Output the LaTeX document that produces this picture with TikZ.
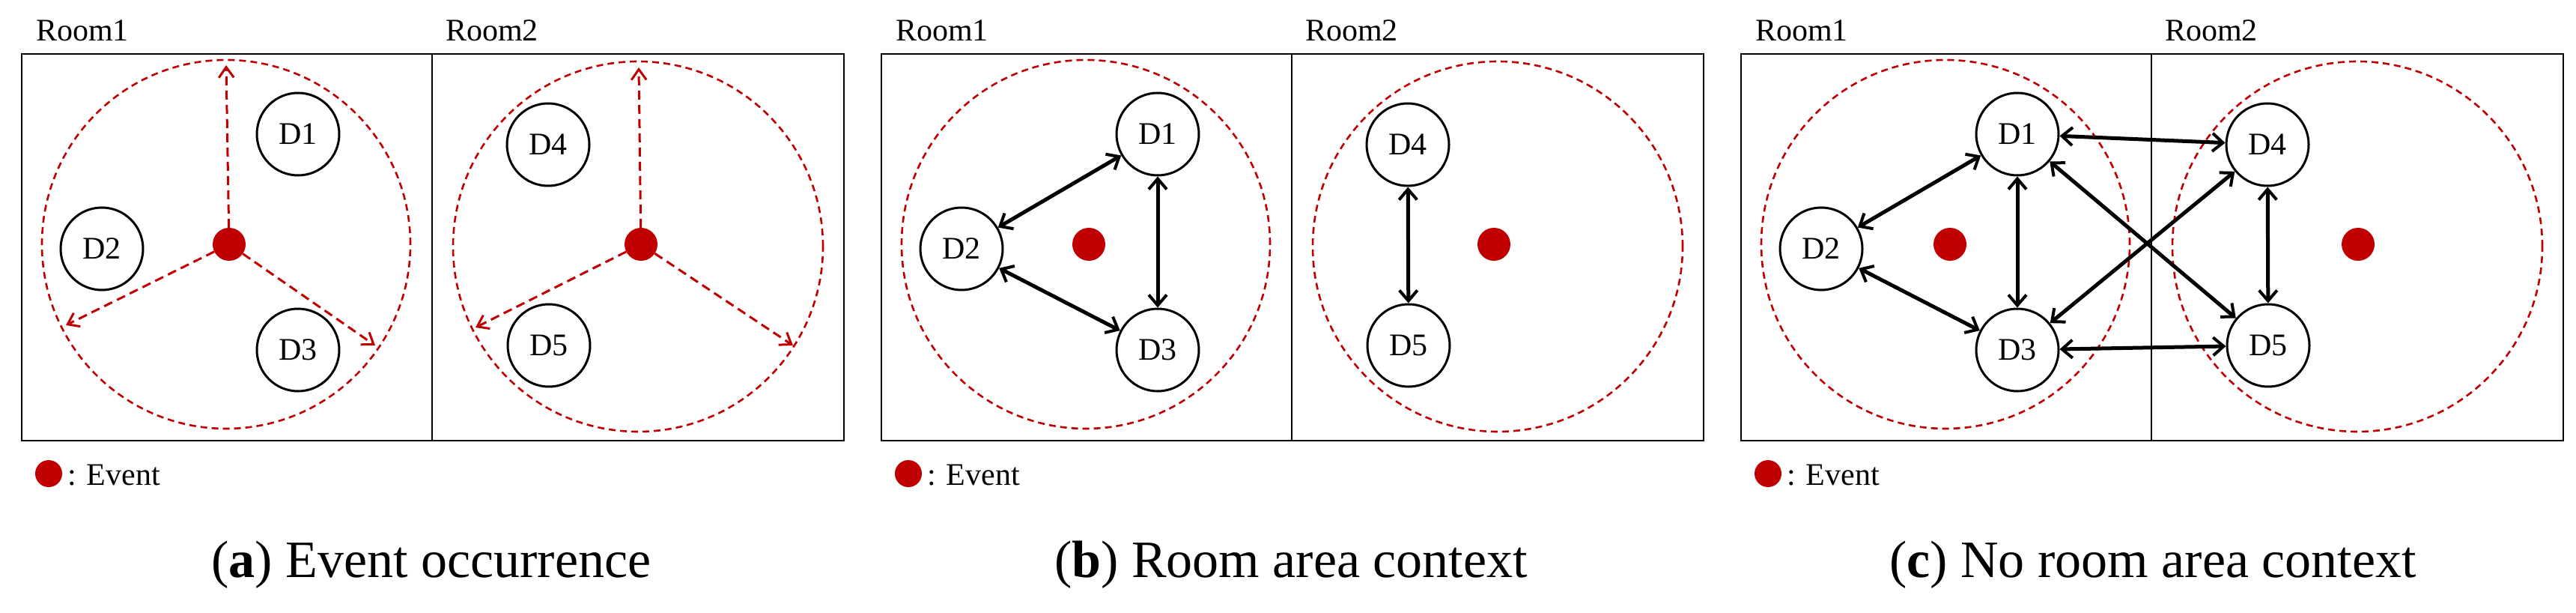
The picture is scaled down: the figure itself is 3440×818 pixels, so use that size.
\documentclass[tikz,border=0pt]{standalone}
\usepackage{fontspec}
\setmainfont{Liberation Serif}
\usetikzlibrary{arrows.meta}
\definecolor{evred}{HTML}{C00000}
\tikzset{
  room/.style={draw, line width=2pt},
  zone/.style={draw=evred, dashed, dash pattern=on 9pt off 6pt, line width=2.6pt},
  dev/.style={circle, draw, line width=3pt, minimum size=110pt, inner sep=0pt, font=\fontsize{42}{42}\selectfont},
  ev/.style={circle, fill=evred, minimum size=44pt, inner sep=0pt},
  prop/.style={draw=evred, dashed, dash pattern=on 12pt off 7pt, line width=3pt, -{Straight Barb[length=14pt,width=20pt,line width=3pt]}},
  link/.style={draw, line width=5pt, {Straight Barb[length=14pt,width=24pt,line width=4pt]}-{Straight Barb[length=14pt,width=24pt,line width=4pt]}},
  lbl/.style={font=\fontsize{42}{42}\selectfont, anchor=base west, inner sep=0pt},
  captxt/.style={font=\fontsize{70}{70}\selectfont, anchor=base, inner sep=0pt}
}
\newcommand\roompanel{%
  \node[room, minimum width=548pt, minimum height=516pt, anchor=north west, inner sep=0pt] (r1) at (0,71) {};
  \node[room, minimum width=550pt, minimum height=516pt, anchor=north west, inner sep=0pt] (r2) at (548,71) {};
  \node[lbl] (t1) at (20,55) {Room1};
  \node[lbl] (t2) at (567,55) {Room2};
  \node[circle, zone, minimum size=492pt] (z1) at (274,326) {};
  \node[circle, zone, minimum size=494pt] (z2) at (824,329) {};
  \node[dev] (D1) at (370,179) {D1};
  \node[dev] (D2) at (108,332) {D2};
  \node[dev] (D3) at (370,467) {D3};
  \node[dev] (D4) at (704,193) {D4};
  \node[dev] (D5) at (705,461) {D5};
  \node[ev, minimum size=36pt] (L) at (37,632) {};
  \node[lbl, anchor=west] (Lt) at (62,634) {: Event};
}
\begin{document}
\begin{tikzpicture}[x=1pt,y=-1pt]
\useasboundingbox (0,0) rectangle (3440,818);
% (a)
\begin{scope}[shift={(28,0)}, name prefix=a-]
  \roompanel
  \node[ev] (E1) at (278,326) {};
  \node[ev] (E2) at (828,326) {};
  \coordinate (p1) at (274,87);
  \coordinate (p2) at (60,434);
  \coordinate (p3) at (473,461);
  \coordinate (q1) at (825,90);
  \coordinate (q2) at (607,437);
  \coordinate (q3) at (1031,461);
  \draw[prop] (E1) -- (p1);
  \draw[prop] (E1) -- (p2);
  \draw[prop] (E1) -- (p3);
  \draw[prop] (E2) -- (q1);
  \draw[prop] (E2) -- (q2);
  \draw[prop] (E2) -- (q3);
  \node[captxt] (c) at (548,770) {(\textbf{a}) Event occurrence};
\end{scope}
% (b)
\begin{scope}[shift={(1176,0)}, name prefix=b-]
  \roompanel
  \node[ev] (E1) at (278,326) {};
  \node[ev] (E2) at (819,326) {};
  \draw[link] (D1) -- (D2);
  \draw[link] (D2) -- (D3);
  \draw[link] (D1) -- (D3);
  \draw[link] (D4) -- (D5);
  \node[captxt] (c) at (548,770) {(\textbf{b}) Room area context};
\end{scope}
% (c)
\begin{scope}[shift={(2324,0)}, name prefix=c-]
  \roompanel
  \node[ev] (E1) at (280,326) {};
  \node[ev] (E2) at (825,326) {};
  \draw[link] (D1) -- (D2);
  \draw[link] (D2) -- (D3);
  \draw[link] (D1) -- (D3);
  \draw[link] (D4) -- (D5);
  \draw[link] (D1) -- (D4);
  \draw[link] (D3) -- (D5);
  \draw[link] (D1) -- (D5);
  \draw[link] (D3) -- (D4);
  \node[captxt] (c) at (551,770) {(\textbf{c}) No room area context};
\end{scope}
\end{tikzpicture}
\end{document}
